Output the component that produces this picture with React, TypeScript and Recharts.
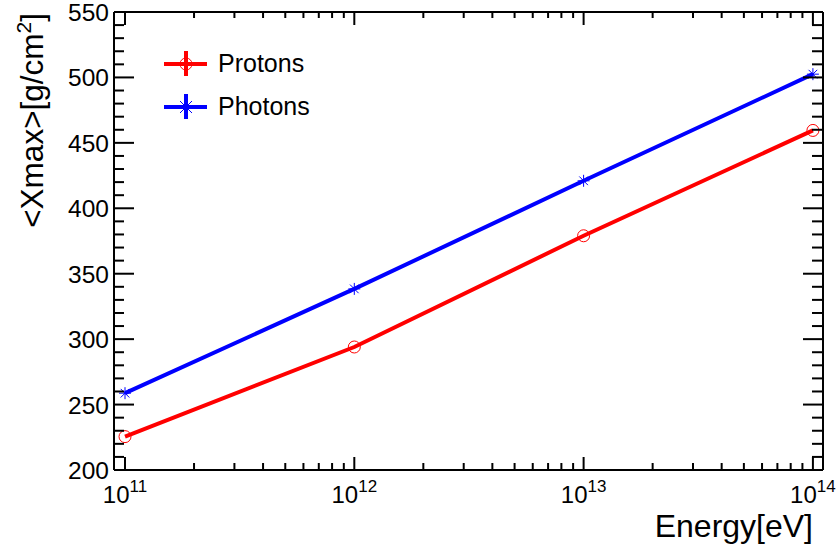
import React from "react";
import { LineChart, Line, XAxis, YAxis } from "recharts";

// Primary energies (eV) and mean shower maximum depth (g/cm^2)
const energies = [1e11, 1e12, 1e13, 1e14];
const protonXmax = [225.5, 294, 379, 459.5];
const photonXmax = [258.7, 338.4, 421, 502.5];

const seriesNames = ["Protons", "Photons"];
const seriesColors = ["#ff0000", "#0000ff"];

// Axis ranges and tick values
const xDomain = [Math.pow(10, 10.952), Math.pow(10, 14.044)];
const yDomain = [200, 550];
const xTicks: number[] = [];
for (let e = 11; e <= 13; e++) {
  for (let k = 1; k <= 9; k++) xTicks.push(k * Math.pow(10, e));
}
xTicks.push(1e14);
const yTicks: number[] = [];
for (let v = 200; v <= 550; v += 10) yTicks.push(v);

const data = energies.map((e, i) => ({
  energy: e,
  protons: protonXmax[i],
  photons: photonXmax[i],
}));

const FONT = "'Liberation Sans', Arial, Helvetica, sans-serif";

const isMajorX = (v: number) => {
  const exp = Math.round(Math.log10(v));
  return Math.abs(v - Math.pow(10, exp)) < 1e-6 * v;
};
const isMajorY = (v: number) => v % 50 === 0;

const BottomTick = (props: any) => {
  const { x, y, payload } = props;
  const v = payload.value;
  const major = isMajorX(v);
  const exp = Math.round(Math.log10(v));
  return (
    <g>
      <line x1={x} x2={x} y1={y} y2={y - (major ? 13 : 7)} stroke="#000" strokeWidth={2} />
      {major && (
        <text x={x} y={y + 33} textAnchor="middle" fontSize={24} fontFamily={FONT} fill="#000">
          10
          <tspan dy={-11} fontSize={17}>{exp}</tspan>
        </text>
      )}
    </g>
  );
};

const TopTick = (props: any) => {
  const { x, y, payload } = props;
  const major = isMajorX(payload.value);
  return <line x1={x} x2={x} y1={y} y2={y + (major ? 13 : 6)} stroke="#000" strokeWidth={2} />;
};

const LeftTick = (props: any) => {
  const { x, y, payload } = props;
  const v = payload.value;
  const major = isMajorY(v);
  return (
    <g>
      <line x1={x} x2={x + (major ? 20 : 10)} y1={y} y2={y} stroke="#000" strokeWidth={2} />
      {major && (
        <text x={x - 5} y={y + 9} textAnchor="end" fontSize={24.5} fontFamily={FONT} fill="#000">
          {v}
        </text>
      )}
    </g>
  );
};

const RightTick = (props: any) => {
  const { x, y, payload } = props;
  const major = isMajorY(payload.value);
  return <line x1={x} x2={x - (major ? 20 : 11)} y1={y} y2={y} stroke="#000" strokeWidth={2} />;
};

const CircleDot = (props: any) => {
  const { cx, cy } = props;
  return <circle cx={cx} cy={cy} r={6} fill="none" stroke="#ff0000" strokeWidth={1} />;
};

const StarDot = (props: any) => {
  const { cx, cy } = props;
  const r = 6;
  const d = r * 0.72;
  return (
    <g stroke="#0000ff" strokeWidth={1}>
      <line x1={cx - r} x2={cx + r} y1={cy} y2={cy} />
      <line x1={cx} x2={cx} y1={cy - r} y2={cy + r} />
      <line x1={cx - d} x2={cx + d} y1={cy - d} y2={cy + d} />
      <line x1={cx - d} x2={cx + d} y1={cy + d} y2={cy - d} />
    </g>
  );
};

const YTitle = (props: any) => {
  const { viewBox } = props;
  const tx = 43;
  const ty = viewBox.y + 1;
  return (
    <text
      x={tx}
      y={ty}
      transform={`rotate(-90 ${tx} ${ty})`}
      textAnchor="end"
      fontSize={31.5}
      fontFamily={FONT}
      fill="#000"
    >
      {"<Xmax>[g/cm"}
      <tspan dy={-12} fontSize={21}>2</tspan>
      <tspan dy={12}>]</tspan>
    </text>
  );
};

const XTitle = (props: any) => {
  const { viewBox } = props;
  return (
    <text
      x={viewBox.x + viewBox.width - 10}
      y={viewBox.y + 67}
      textAnchor="end"
      fontSize={32}
      fontFamily={FONT}
      fill="#000"
    >
      Energy[eV]
    </text>
  );
};

const LegendBox = () => (
  <svg
    width={220}
    height={95}
    style={{ position: "absolute", left: 150, top: 40 }}
  >
    {seriesNames.map((name, i) => {
      const cy = 24 + i * 43;
      const color = seriesColors[i];
      return (
        <g key={name}>
          <line x1={14} x2={57} y1={cy} y2={cy} stroke={color} strokeWidth={4} />
          <line x1={36} x2={36} y1={cy - 13} y2={cy + 12} stroke={color} strokeWidth={4} />
          {i === 0 ? (
            <circle cx={36} cy={cy} r={6} fill="none" stroke={color} strokeWidth={1} />
          ) : (
            <g stroke={color} strokeWidth={1}>
              <line x1={30} x2={42} y1={cy - 6} y2={cy + 6} />
              <line x1={30} x2={42} y1={cy + 6} y2={cy - 6} />
            </g>
          )}
          <text x={68} y={cy + 8} fontSize={25} fontFamily={FONT} fill="#000">
            {name}
          </text>
        </g>
      );
    })}
  </svg>
);

const axisLineStyle = { stroke: "#000", strokeWidth: 2 };

export default function App() {
  return (
    <div style={{ position: "absolute", left: 0, top: 0, width: 840, height: 554, background: "#fff" }}>
      <LineChart
        width={840}
        height={554}
        data={data}
        margin={{ top: 11, right: 16, bottom: 83, left: 113 }}
      >
        <XAxis
          xAxisId="bottom"
          dataKey="energy"
          type="number"
          scale="log"
          domain={xDomain}
          ticks={xTicks}
          allowDataOverflow
          height={1}
          tickSize={0}
          tickMargin={0}
          tickLine={false}
          interval={0}
          axisLine={axisLineStyle}
          tick={BottomTick}
          label={XTitle}
        />
        <XAxis
          xAxisId="top"
          orientation="top"
          dataKey="energy"
          type="number"
          scale="log"
          domain={xDomain}
          ticks={xTicks}
          allowDataOverflow
          height={1}
          tickSize={0}
          tickMargin={0}
          tickLine={false}
          interval={0}
          axisLine={axisLineStyle}
          tick={TopTick}
        />
        <YAxis
          yAxisId="left"
          type="number"
          domain={yDomain}
          ticks={yTicks}
          allowDataOverflow
          width={1}
          tickSize={0}
          tickMargin={0}
          tickLine={false}
          interval={0}
          axisLine={axisLineStyle}
          tick={LeftTick}
          label={YTitle}
        />
        <YAxis
          yAxisId="right"
          orientation="right"
          type="number"
          domain={yDomain}
          ticks={yTicks}
          allowDataOverflow
          width={1}
          tickSize={0}
          tickMargin={0}
          tickLine={false}
          interval={0}
          axisLine={axisLineStyle}
          tick={RightTick}
        />
        <Line
          xAxisId="bottom"
          yAxisId="left"
          dataKey="protons"
          name={seriesNames[0]}
          stroke={seriesColors[0]}
          strokeWidth={4}
          dot={CircleDot}
          activeDot={false}
          isAnimationActive={false}
        />
        <Line
          xAxisId="bottom"
          yAxisId="left"
          dataKey="photons"
          name={seriesNames[1]}
          stroke={seriesColors[1]}
          strokeWidth={4}
          dot={StarDot}
          activeDot={false}
          isAnimationActive={false}
        />
      </LineChart>
      <LegendBox />
    </div>
  );
}
